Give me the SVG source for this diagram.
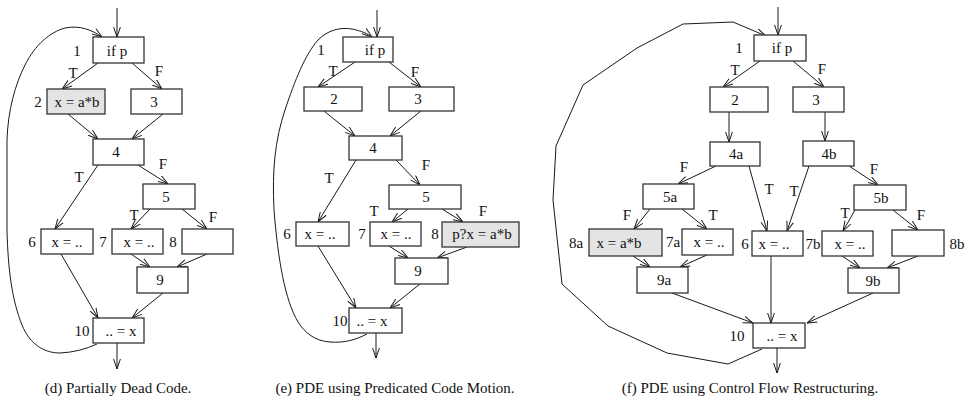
<svg xmlns="http://www.w3.org/2000/svg" width="967" height="403" viewBox="0 0 967 403" font-family="'Liberation Serif', 'Times New Roman', Tinos, 'DejaVu Serif', serif">
  <style>
    text { font-family: 'Liberation Serif', 'Times New Roman', Tinos, 'DejaVu Serif', serif; font-size: 15px; fill: #111; }
    .t { text-anchor: middle; }
    .box { fill: #fff; stroke: #333; stroke-width: 1.3; }
    .hot { fill: #e4e4e4; }
    .edge { fill: none; stroke: #1a1a1a; stroke-width: 1; marker-end: url(#arrow); }
    .loop { fill: none; stroke: #1a1a1a; stroke-width: 1; marker-end: url(#arrow); }
    .cap { text-anchor: middle; font-size: 15px; }
  </style>
  <defs>
    <marker id="arrow" markerUnits="userSpaceOnUse" viewBox="0 0 10 8" refX="10" refY="4" markerWidth="10" markerHeight="8" orient="auto">
      <path d="M0,0.6 L10,4 L0,7.4" fill="none" stroke="#1a1a1a" stroke-width="1"/>
    </marker>
  </defs>

  <rect width="967" height="403" fill="#fff"/>

  <!-- (d) partially dead code -->
  <g id="d-connectors">
    <line class="edge" x1="117" y1="8" x2="117" y2="37"/>
    <line class="edge" x1="98" y1="63" x2="62" y2="89"/>
    <line class="edge" x1="132" y1="63" x2="162" y2="89"/>
    <line class="edge" x1="68" y1="114" x2="98" y2="139"/>
    <line class="edge" x1="163" y1="114" x2="132" y2="139"/>
    <line class="edge" x1="98" y1="165" x2="55" y2="229"/>
    <line class="edge" x1="138" y1="165" x2="168" y2="184"/>
    <line class="edge" x1="150" y1="209" x2="131" y2="229"/>
    <line class="edge" x1="182" y1="209" x2="207" y2="229"/>
    <line class="edge" x1="131" y1="254" x2="150" y2="267"/>
    <line class="edge" x1="207" y1="254" x2="177" y2="267"/>
    <line class="edge" x1="61" y1="254" x2="98" y2="318"/>
    <line class="edge" x1="163" y1="293" x2="132" y2="318"/>
    <line class="edge" x1="117" y1="343" x2="117" y2="369"/>
    <path class="loop" d="M97,344 Q80,352 60,353 C45,353 30,345 22,325 C12,300 8,270 7,230 L7,140 C8,110 15,85 25,65 C35,45 50,32 65,28 C80,25 92,30 102,37"/>
    <text class="t" x="73" y="78">T</text>
    <text class="t" x="159" y="76">F</text>
    <text class="t" x="79" y="182">T</text>
    <text class="t" x="163" y="169">F</text>
    <text class="t" x="134" y="220">T</text>
    <text class="t" x="213" y="222">F</text>
  </g>
  <g id="d-n1"><rect class="box" x="93" y="37" width="51" height="26"/><text class="t" x="117" y="56">if p</text><text class="t" x="77" y="56">1</text></g>
  <g id="d-n2"><rect class="box hot" x="47" y="89" width="58" height="25"/><text class="t" x="77" y="107">x = a*b</text><text class="t" x="38" y="107">2</text></g>
  <g id="d-n3"><rect class="box" x="131" y="89" width="51" height="25"/><text class="t" x="154" y="107">3</text></g>
  <g id="d-n4"><rect class="box" x="93" y="139" width="51" height="26"/><text class="t" x="116" y="157">4</text></g>
  <g id="d-n5"><rect class="box" x="143" y="184" width="52" height="25"/><text class="t" x="166" y="202">5</text></g>
  <g id="d-n6"><rect class="box" x="41" y="229" width="52" height="25"/><text class="t" x="67" y="247">x = ..</text><text class="t" x="32" y="247">6</text></g>
  <g id="d-n7"><rect class="box" x="112" y="229" width="51" height="25"/><text class="t" x="139" y="247">x = ..</text><text class="t" x="103" y="247">7</text></g>
  <g id="d-n8"><rect class="box" x="182" y="229" width="51" height="25"/><text class="t" x="173" y="247">8</text></g>
  <g id="d-n9"><rect class="box" x="137" y="267" width="51" height="26"/><text class="t" x="160" y="285">9</text></g>
  <g id="d-n10"><rect class="box" x="93" y="318" width="51" height="25"/><text class="t" x="121" y="336">.. = x</text><text class="t" x="82" y="336">10</text></g>
  <text class="cap" x="118" y="393">(d) Partially Dead Code.</text>

  <!-- (e) predicated code motion -->
  <g id="e-connectors">
    <line class="edge" x1="377" y1="10" x2="377" y2="37"/>
    <line class="edge" x1="355" y1="62" x2="318" y2="87"/>
    <line class="edge" x1="389" y1="62" x2="421" y2="87"/>
    <line class="edge" x1="324" y1="111" x2="355" y2="136"/>
    <line class="edge" x1="421" y1="111" x2="390" y2="136"/>
    <line class="edge" x1="356" y1="160" x2="318" y2="222"/>
    <line class="edge" x1="396" y1="160" x2="420" y2="185"/>
    <line class="edge" x1="408" y1="209" x2="392" y2="222"/>
    <line class="edge" x1="442" y1="209" x2="463" y2="222"/>
    <line class="edge" x1="389" y1="246" x2="408" y2="258"/>
    <line class="edge" x1="467" y1="247" x2="437" y2="258"/>
    <line class="edge" x1="318" y1="246" x2="356" y2="308"/>
    <line class="edge" x1="420" y1="284" x2="390" y2="308"/>
    <line class="edge" x1="376" y1="333" x2="376" y2="358"/>
    <path class="loop" d="M367,334 C355,340 345,343 330,342 C315,341 305,333 298,322 C285,300 278,260 274,210 C272,170 275,140 285,110 C295,80 305,55 318,40 C328,30 340,27 352,29 C362,31 368,34 372,37"/>
    <text class="t" x="333" y="76">T</text>
    <text class="t" x="415" y="77">F</text>
    <text class="t" x="329" y="183">T</text>
    <text class="t" x="426" y="170">F</text>
    <text class="t" x="374" y="216">T</text>
    <text class="t" x="483" y="216">F</text>
  </g>
  <g id="e-n1"><rect class="box" x="343" y="37" width="50" height="25"/><text class="t" x="375" y="55">if p</text><text class="t" x="321" y="55">1</text></g>
  <g id="e-n2"><rect class="box" x="304" y="87" width="58" height="24"/><text class="t" x="334" y="104">2</text></g>
  <g id="e-n3"><rect class="box" x="389" y="87" width="65" height="24"/><text class="t" x="418" y="104">3</text></g>
  <g id="e-n4"><rect class="box" x="349" y="136" width="53" height="24"/><text class="t" x="373" y="153">4</text></g>
  <g id="e-n5"><rect class="box" x="389" y="185" width="72" height="24"/><text class="t" x="426" y="202">5</text></g>
  <g id="e-n6"><rect class="box" x="296" y="222" width="53" height="24"/><text class="t" x="320" y="239">x = ..</text><text class="t" x="287" y="239">6</text></g>
  <g id="e-n7"><rect class="box" x="370" y="222" width="51" height="24"/><text class="t" x="396" y="239">x = ..</text><text class="t" x="362" y="239">7</text></g>
  <g id="e-n8"><rect class="box hot" x="442" y="222" width="77" height="25"/><text class="t" x="482" y="239">p?x = a*b</text><text class="t" x="435" y="239">8</text></g>
  <g id="e-n9"><rect class="box" x="395" y="258" width="53" height="26"/><text class="t" x="418" y="276">9</text></g>
  <g id="e-n10"><rect class="box" x="349" y="308" width="53" height="25"/><text class="t" x="372" y="326">.. = x</text><text class="t" x="340" y="326">10</text></g>
  <text class="cap" x="395" y="393">(e) PDE using Predicated Code Motion.</text>

  <!-- (f) control flow restructuring -->
  <g id="f-connectors">
    <line class="edge" x1="778" y1="7" x2="778" y2="35"/>
    <line class="edge" x1="760" y1="61" x2="723" y2="87"/>
    <line class="edge" x1="793" y1="61" x2="824" y2="87"/>
    <line class="edge" x1="729" y1="112" x2="729" y2="142"/>
    <line class="edge" x1="825" y1="112" x2="825" y2="141"/>
    <line class="edge" x1="716" y1="166" x2="678" y2="184"/>
    <line class="edge" x1="749" y1="166" x2="767" y2="231"/>
    <line class="edge" x1="809" y1="166" x2="787" y2="231"/>
    <line class="edge" x1="849" y1="166" x2="878" y2="185"/>
    <line class="edge" x1="650" y1="209" x2="634" y2="229"/>
    <line class="edge" x1="682" y1="209" x2="707" y2="229"/>
    <line class="edge" x1="855" y1="210" x2="843" y2="231"/>
    <line class="edge" x1="893" y1="210" x2="918" y2="230"/>
    <line class="edge" x1="633" y1="256" x2="650" y2="267"/>
    <line class="edge" x1="707" y1="255" x2="680" y2="267"/>
    <line class="edge" x1="842" y1="256" x2="860" y2="268"/>
    <line class="edge" x1="918" y1="256" x2="887" y2="268"/>
    <line class="edge" x1="771" y1="256" x2="771" y2="323"/>
    <line class="edge" x1="672" y1="293" x2="753" y2="323"/>
    <line class="edge" x1="873" y1="293" x2="807" y2="323"/>
    <line class="edge" x1="777" y1="348" x2="777" y2="373"/>
    <polyline class="loop" points="762,349 728,364 667,353 608,326 562,284 553,200 556,146 583,85 637,48 683,24 733,22 766,36"/>
    <text class="t" x="735" y="75">T</text>
    <text class="t" x="822" y="74">F</text>
    <text class="t" x="684" y="172">F</text>
    <text class="t" x="769" y="194">T</text>
    <text class="t" x="794" y="196">T</text>
    <text class="t" x="874" y="174">F</text>
    <text class="t" x="627" y="220">F</text>
    <text class="t" x="713" y="220">T</text>
    <text class="t" x="845" y="218">T</text>
    <text class="t" x="921" y="220">F</text>
  </g>
  <g id="f-n1"><rect class="box" x="754" y="35" width="52" height="26"/><text class="t" x="782" y="53">if p</text><text class="t" x="739" y="53">1</text></g>
  <g id="f-n2"><rect class="box" x="710" y="87" width="58" height="25"/><text class="t" x="735" y="105">2</text></g>
  <g id="f-n3"><rect class="box" x="793" y="87" width="51" height="25"/><text class="t" x="816" y="105">3</text></g>
  <g id="f-n4a"><rect class="box" x="710" y="142" width="50" height="24"/><text class="t" x="736" y="159">4a</text></g>
  <g id="f-n4b"><rect class="box" x="803" y="141" width="51" height="25"/><text class="t" x="829" y="159">4b</text></g>
  <g id="f-n5a"><rect class="box" x="643" y="184" width="51" height="25"/><text class="t" x="670" y="202">5a</text></g>
  <g id="f-n5b"><rect class="box" x="854" y="185" width="52" height="25"/><text class="t" x="881" y="203">5b</text></g>
  <g id="f-n8a"><rect class="box hot" x="589" y="229" width="73" height="27"/><text class="t" x="619" y="248">x = a*b</text><text class="t" x="576" y="248">8a</text></g>
  <g id="f-n7a"><rect class="box" x="682" y="229" width="51" height="26"/><text class="t" x="709" y="247">x = ..</text><text class="t" x="673" y="247">7a</text></g>
  <g id="f-n6"><rect class="box" x="752" y="231" width="51" height="25"/><text class="t" x="774" y="249">x = ..</text><text class="t" x="745" y="249">6</text></g>
  <g id="f-n7b"><rect class="box" x="822" y="231" width="51" height="25"/><text class="t" x="850" y="249">x = ..</text><text class="t" x="813" y="249">7b</text></g>
  <g id="f-n8b"><rect class="box" x="892" y="230" width="52" height="26"/><text class="t" x="957" y="249">8b</text></g>
  <g id="f-n9a"><rect class="box" x="637" y="267" width="51" height="26"/><text class="t" x="664" y="285">9a</text></g>
  <g id="f-n9b"><rect class="box" x="848" y="268" width="51" height="25"/><text class="t" x="873" y="286">9b</text></g>
  <g id="f-n10"><rect class="box" x="753" y="323" width="52" height="25"/><text class="t" x="782" y="341">.. = x</text><text class="t" x="737" y="341">10</text></g>
  <text class="cap" x="750" y="393">(f) PDE using Control Flow Restructuring.</text>
</svg>
